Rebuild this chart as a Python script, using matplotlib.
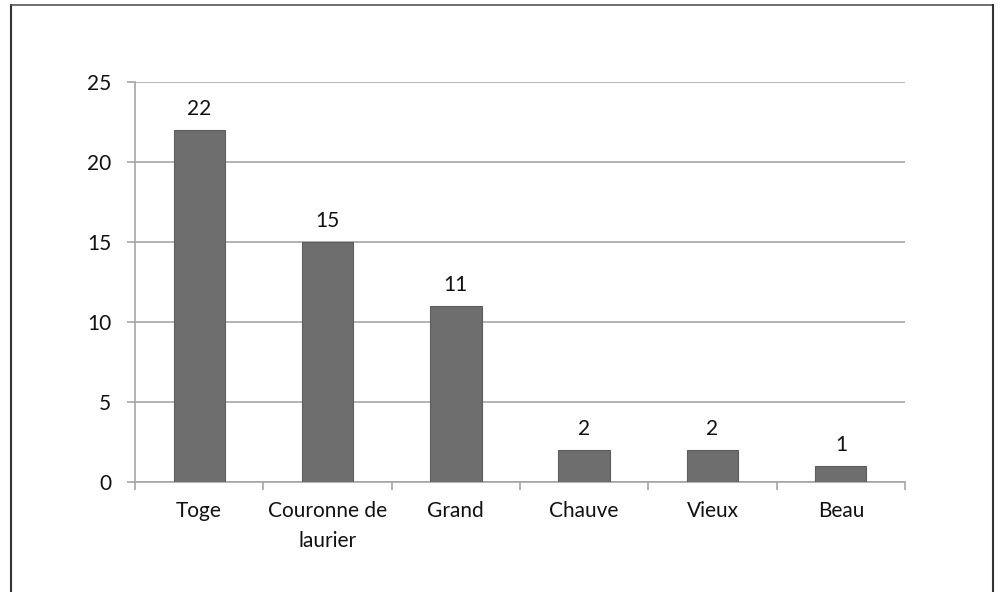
import matplotlib
matplotlib.use("Agg")
import matplotlib.pyplot as plt
from matplotlib.lines import Line2D

categories = ["Toge", "Couronne de\nlaurier", "Grand", "Chauve", "Vieux", "Beau"]
values = [22, 15, 11, 2, 2, 1]
yticks = [0, 5, 10, 15, 20, 25]

plt.rcParams['font.family'] = ['Lato', 'DejaVu Sans']

fig = plt.figure(figsize=(10.01, 5.92), dpi=100)
ax = fig.add_axes([135/1001, 1 - 482/592, (905-135)/1001, (482-82)/592])

x = list(range(len(categories)))
ax.bar(x, values, width=0.4, color="#6e6e6e", edgecolor="#5c5c5c", linewidth=0.8, zorder=3)
for xi, v in zip(x, values):
    ax.annotate(str(v), (xi, v), xytext=(0, 8), textcoords="offset points",
                ha="center", va="bottom", fontsize=15, color="#111111")

ax.set_xlim(-0.5, len(categories) - 0.5)
ax.set_ylim(0, 25)
ax.set_yticks(yticks)
ax.set_yticklabels([str(t) for t in yticks], fontsize=15, color="#111111")
ax.yaxis.grid(True, color="#a6a6a6", linewidth=1.2, zorder=0)
ax.tick_params(axis="y", length=6, width=1.2, color="#a6a6a6", pad=11)

ax.set_xticks(x)
ax.set_xticklabels(categories, fontsize=15, color="#111111", linespacing=1.6)
ax.tick_params(axis="x", length=0, pad=14)
ax.set_xticks([i - 0.5 for i in range(len(categories) + 1)], minor=True)
ax.tick_params(axis="x", which="minor", length=6, width=1.2, color="#a6a6a6", direction="out")

for s in ["top", "right"]:
    ax.spines[s].set_visible(False)
for s in ["left", "bottom"]:
    ax.spines[s].set_color("#a6a6a6")
    ax.spines[s].set_linewidth(1.2)

# outer border
fig.add_artist(Line2D([11/1001, 11/1001], [0, 1 - 5/592], transform=fig.transFigure, color="#333333", linewidth=1.5))
fig.add_artist(Line2D([11/1001, 993/1001], [1 - 5/592, 1 - 5/592], transform=fig.transFigure, color="#555555", linewidth=1.2))
fig.add_artist(Line2D([993/1001, 993/1001], [0, 1 - 5/592], transform=fig.transFigure, color="#333333", linewidth=1.5))

fig.savefig("out.png", dpi=100, facecolor="white")
